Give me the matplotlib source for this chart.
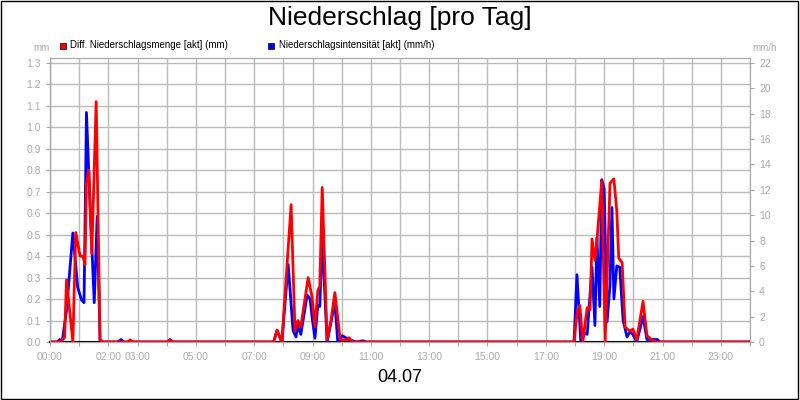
import matplotlib
matplotlib.use("Agg")
import matplotlib.pyplot as plt
from matplotlib.patches import Rectangle
import numpy as np

plt.rcParams['font.family'] = ['Liberation Sans', 'DejaVu Sans']

# times in minutes since 00:00
red_t = [0, 20, 30, 34, 47, 53, 62, 68, 72, 75, 80, 86, 95, 103, 110, 160, 165, 170, 242, 247, 252,
         460, 467, 477, 496, 504, 510, 516, 531, 539, 545, 551, 555, 560, 570, 578, 586, 597, 610, 615, 622,
         1078, 1084, 1090, 1096, 1105, 1111, 1115, 1121, 1125, 1135, 1142, 1152, 1160, 1166, 1170, 1177,
         1183, 1193, 1199, 1207, 1220, 1228, 1238, 1245, 1440]
red_v = [0, 0, 0.02, 0.29, 0.0, 0.51, 0.40, 0.40, 0.36, 0.74, 0.80, 0.41, 1.12, 0.01, 0, 0, 0.01, 0, 0, 0.01, 0,
         0, 0.056, 0, 0.64, 0.05, 0.10, 0.07, 0.30, 0.21, 0.07, 0.24, 0.26, 0.72, 0.01, 0.10, 0.23, 0.01, 0.01, 0.02, 0,
         0, 0.13, 0.17, 0, 0.16, 0.15, 0.48, 0.38, 0.47, 0.75, 0, 0.74, 0.76, 0.61, 0.39, 0.37,
         0.07, 0.05, 0.06, 0.01, 0.19, 0.03, 0.01, 0, 0]
blue_t = [0, 15, 20, 25, 34, 47, 57, 65, 70, 75, 82, 91, 97, 103, 110, 140, 146, 152, 242, 247, 252,
          460, 467, 477, 490, 500, 506, 510, 516, 529, 535, 539, 545, 551, 555, 560, 570, 586, 592, 601, 615, 630, 644, 650,
          1078, 1084, 1092, 1100, 1105, 1115, 1121, 1125, 1131, 1135, 1140, 1146, 1152, 1156, 1160, 1166, 1172,
          1179, 1187, 1193, 1199, 1207, 1220, 1228, 1249, 1255, 1440]
blue_v = [0, 0, 0.2, 0, 2.5, 8.6, 4.3, 3.3, 3.1, 18.1, 11.2, 3.1, 9.9, 0, 0, 0, 0.2, 0, 0, 0.2, 0,
          0, 0.9, 0, 6.1, 0.9, 0.4, 1.3, 0.6, 3.7, 3.4, 2.0, 0.3, 2.9, 2.8, 8.2, 0, 3.1, 0, 0.5, 0.2, 0, 0.1, 0,
          0, 5.3, 0, 0.7, 0.6, 5.9, 1.3, 8.2, 2.8, 12.8, 12.1, 1.6, 4.5, 10.6, 3.4, 6.0, 5.9,
          1.7, 0.4, 0.8, 0.6, 0, 2.0, 0.2, 0.2, 0, 0]

tick_hours = [0, 2, 3, 5, 7, 9, 11, 13, 15, 17, 19, 21, 23]
tick_labels = ["00:00", "02:00", "03:00", "05:00", "07:00", "09:00", "11:00", "13:00",
               "15:00", "17:00", "19:00", "21:00", "23:00"]
left_ticks = [round(0.1 * i, 1) for i in range(14)]
right_ticks = list(range(0, 23, 2))

fig = plt.figure(figsize=(8, 4), dpi=100)
fig.patches.append(Rectangle((0.001, 0.002), 0.997, 0.995, transform=fig.transFigure,
                             fill=False, edgecolor="black", lw=1))
ax = fig.add_axes([50/800, 1-342/400, 700/800, (342-58)/400])
ax2 = ax.twinx()
top_frac = (342-58)/(342-63)

ax.plot(np.array(blue_t)/60, np.array(blue_v)/22*1.3, color="#0000ff", lw=2, zorder=3)
ax.plot(np.array(red_t)/60, red_v, color="#ff0000", lw=2, zorder=4)
ax.set_xlim(0, 24)
ax.set_ylim(0, 1.3*top_frac)
ax2.set_ylim(0, 22*top_frac)
ax.set_xticks(range(0, 25), minor=False)
ax.set_xticklabels(["" for _ in range(25)])
for h, lab in zip(tick_hours, tick_labels):
    ax.text(h, -0.035, lab, ha="center", va="top", fontsize=7.5, color="#aaaaaa",
            transform=ax.get_xaxis_transform())
ax.set_yticks(left_ticks)
ax.set_yticklabels([f"{v:.1f}" for v in left_ticks])
ax2.set_yticks(right_ticks)
ax.grid(True, color="#bbbbbb", lw=1)
for a in (ax, ax2):
    a.tick_params(labelsize=7.5, labelcolor="#aaaaaa", length=3, color="#aaaaaa")
    for s in a.spines.values():
        s.set_color("#aaaaaa")
ax.spines["left"].set_color("black")
ax.spines["bottom"].set_color("black")
ax.spines["bottom"].set_linewidth(1.5)

fig.text(0.5, 1-18/400, "Niederschlag [pro Tag]", ha="center", va="center", fontsize=19)
fig.text(0.5, 1-378/400, "04.07", ha="center", va="center", fontsize=13)
fig.text(33/800, 1-48/400, "mm", ha="left", va="center", fontsize=7, color="#aaaaaa")
fig.text(752/800, 1-48/400, "mm/h", ha="left", va="center", fontsize=7, color="#aaaaaa")
fig.patches.append(Rectangle((60/800, 1-49/400), 6/800, 6/400, transform=fig.transFigure,
                             facecolor="#ff0000", edgecolor="black", lw=0.5))
fig.text(70/800, 1-45/400, "Diff. Niederschlagsmenge [akt] (mm)", ha="left", va="center", fontsize=7)
fig.patches.append(Rectangle((268/800, 1-49/400), 6/800, 6/400, transform=fig.transFigure,
                             facecolor="#0000ff", edgecolor="black", lw=0.5))
fig.text(279/800, 1-45/400, "Niederschlagsintensität [akt] (mm/h)", ha="left", va="center", fontsize=7)

fig.savefig("out.png", dpi=100)
